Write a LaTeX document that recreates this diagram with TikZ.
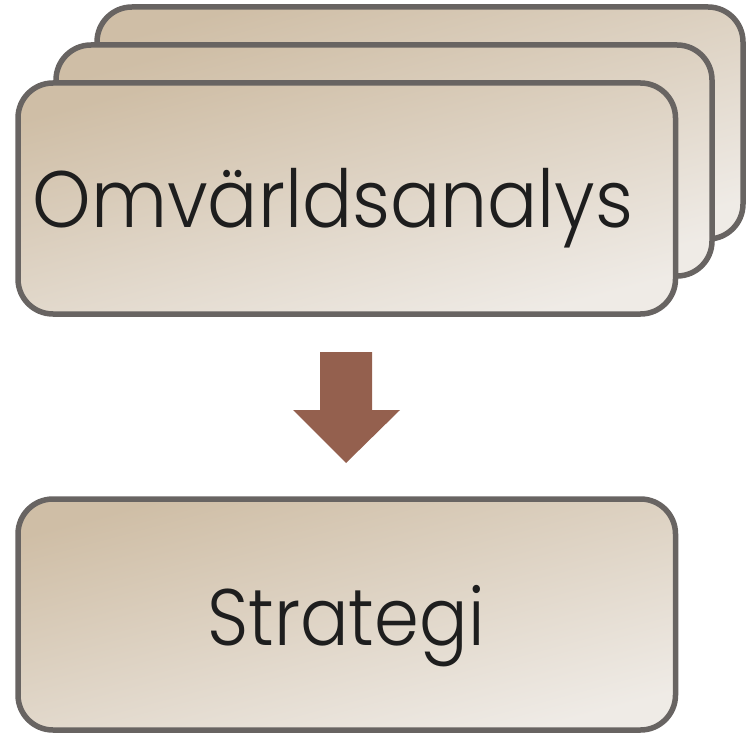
\documentclass[tikz,border=0pt]{standalone}
\usepackage{fontspec}
\setmainfont{Poppins}[UprightFont={* Light}]
\definecolor{edgec}{HTML}{686462}
\definecolor{tanA}{HTML}{CFBEA6}
\definecolor{tanB}{HTML}{EFEBE6}
\definecolor{arrowc}{HTML}{94604E}
\definecolor{txtc}{HTML}{1E1E1E}
\begin{document}
\begin{tikzpicture}[x=1pt,y=-1pt,
  card/.style={draw=edgec, line width=5.5pt, rounded corners=35pt,
    top color=tanA, bottom color=tanB, shading angle=15,
    inner sep=0pt, outer sep=0pt},
  lbl/.style={text=txtc, font=\fontsize{80}{92}\selectfont, inner sep=0pt}]
\useasboundingbox (0,0) rectangle (746,735);
\node[card, minimum width=646pt, minimum height=232pt] (b3) at (420,123) {};
\node[card, minimum width=656pt, minimum height=231pt] (b2) at (384,160.5) {};
\node[card, minimum width=657.5pt, minimum height=231pt] (b1) at (346.75,198.5) {};
\node[card, minimum width=657.5pt, minimum height=231pt] (s) at (346.75,614.5) {};
\node[lbl, xscale=0.93] (t1) at (333,208) {Omvärldsanalys};
\node[lbl, xscale=0.9] (t2) at (346,626) {Strategi};
\fill[arrowc] (320,352) -- (372,352) -- (372,410) -- (400,410) -- (346,463)
  -- (293,410) -- (320,410) -- cycle;
\end{tikzpicture}
\end{document}
